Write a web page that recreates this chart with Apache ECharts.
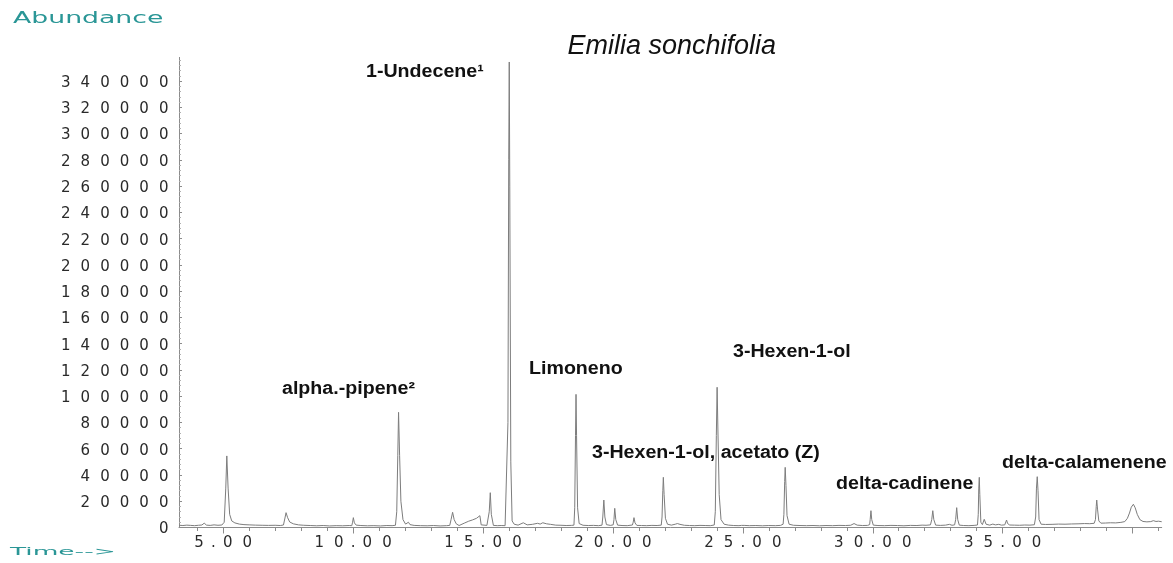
<!DOCTYPE html>
<html>
<head>
<meta charset="utf-8">
<script src="https://cdn.jsdelivr.net/npm/echarts@6/dist/echarts.min.js"></script>
<style>
html,body{margin:0;padding:0;background:#fff;}
#chart{width:1173px;height:563px;}
</style>
</head>
<body>
<div id="chart"></div>
<script>
// Retention time (min) and abundance
const timeMin = [
  3.30, 3.45, 3.60, 3.75, 3.90, 4.05, 4.18, 4.27, 4.36, 4.50, 4.65, 4.80, 4.95,
  5.04, 5.10, 5.14, 5.19, 5.25, 5.33, 5.45, 5.62, 5.80,
  6.00, 6.25, 6.50, 6.75, 7.00, 7.20, 7.32,
  7.37, 7.42, 7.48, 7.56, 7.70, 7.90,
  8.10, 8.35, 8.60, 8.85, 9.10, 9.35, 9.60, 9.85, 9.95,
  9.98, 10.01, 10.05, 10.12,
  10.30, 10.55, 10.80, 11.05, 11.30, 11.50, 11.63,
  11.68, 11.72, 11.75, 11.79, 11.84, 11.92, 12.02,
  12.08, 12.13, 12.19, 12.35,
  12.60, 12.85, 13.10, 13.35, 13.60, 13.72,
  13.77, 13.83, 13.89, 13.97, 14.08,
  14.15, 14.30, 14.45, 14.60, 14.75, 14.88, 14.93, 14.98,
  15.15, 15.24, 15.28, 15.32, 15.40,
  15.55, 15.70, 15.85, 15.92,
  15.96, 15.99, 16.01, 16.03, 16.07, 16.12,
  16.20, 16.35, 16.55, 16.70, 16.90, 17.10, 17.20, 17.30, 17.45, 17.60, 17.80, 18.00, 18.20, 18.40, 18.50,
  18.53, 18.56, 18.58, 18.60, 18.64, 18.70,
  18.85, 19.05, 19.25, 19.45, 19.58,
  19.61, 19.65, 19.69, 19.75, 19.90, 20.01,
  20.04, 20.07, 20.11, 20.18, 20.35, 20.55, 20.75,
  20.78, 20.81, 20.85, 20.92,
  21.10, 21.30, 21.50, 21.70, 21.86,
  21.89, 21.92, 21.94, 21.97, 22.02, 22.10,
  22.25, 22.40, 22.48, 22.58, 22.75, 22.95, 23.15, 23.35, 23.55, 23.75, 23.90,
  23.94, 23.98, 24.01, 24.04, 24.09, 24.16, 24.28,
  24.45, 24.65, 24.85, 24.95, 25.00, 25.05, 25.25, 25.50, 25.75, 26.00, 26.25, 26.45, 26.55,
  26.58, 26.61, 26.63, 26.66, 26.70, 26.78,
  26.95, 27.20, 27.45, 27.70, 27.95, 28.20, 28.45, 28.70, 28.95, 29.15, 29.28, 29.40, 29.60, 29.80, 29.88,
  29.90, 29.93, 29.96, 30.02,
  30.20, 30.45, 30.70, 30.95, 31.20, 31.45, 31.70, 31.90, 31.97, 32.05, 32.22,
  32.27, 32.31, 32.35, 32.42,
  32.60, 32.80, 32.95, 33.05, 33.15,
  33.19, 33.23, 33.27, 33.33,
  33.50, 33.70, 33.90, 34.03,
  34.06, 34.08, 34.10, 34.12, 34.16,
  34.22, 34.29, 34.36, 34.50, 34.62, 34.72, 34.85, 34.95, 35.08,
  35.12, 35.15, 35.19, 35.27,
  35.45, 35.65, 35.85, 36.05, 36.22,
  36.27, 36.30, 36.33, 36.36, 36.40, 36.48,
  36.65, 36.90, 37.15, 37.40, 37.65, 37.90, 38.15, 38.35, 38.52,
  38.57, 38.60, 38.62, 38.65, 38.70, 38.78,
  38.95, 39.15, 39.35, 39.55, 39.70,
  39.80, 39.88, 39.95, 40.03, 40.10, 40.18, 40.28, 40.40,
  40.55, 40.70, 40.80, 40.90, 41.00, 41.12
];
const abundance = [
  1700, 1500, 1800, 1600, 1400, 1700, 1900, 3300, 1800, 1600, 2000, 1700, 1900,
  4000, 30000, 54500, 30000, 10000, 5000, 3500, 2600, 2200,
  2000, 1800, 1700, 1600, 1700, 1500, 1900,
  6500, 11300, 7500, 4200, 2800, 2000,
  1700, 1500, 1300, 1500, 1200, 1400, 1300, 1500, 1400,
  4000, 7500, 3500, 1800,
  1500, 1300, 1400, 1200, 1500, 1400, 1700,
  12000, 55000, 87700, 55000, 20000, 6000, 2600,
  2500, 4000, 2200, 1600,
  1400, 1300, 1500, 1200, 1400, 1600,
  6000, 11600, 6000, 2800, 1500,
  1800, 3500, 4800, 5800, 7000, 9000, 2000, 1500,
  1600, 12000, 26500, 10000, 1600,
  1400, 1500, 1400, 2000,
  80000, 280000, 354500, 260000, 50000, 5000,
  2500, 1800, 3600, 2000, 2400, 3200, 2600, 3600, 2800, 2400, 1800, 1700, 1500, 1600, 1800,
  15000, 70000, 101400, 70000, 15000, 3000,
  1700, 1500, 1600, 1400, 1800,
  8000, 20900, 8000, 2200, 1600, 2000,
  6000, 14600, 6000, 1800, 1500, 1400, 1900,
  4000, 7500, 3500, 1600,
  1500, 1400, 1600, 1500, 1800,
  8000, 28000, 38200, 25000, 7000, 2500,
  1800, 2500, 3000, 2400, 1700, 1500, 1400, 1600, 1500, 1400, 1900,
  12000, 70000, 106800, 75000, 25000, 6000, 2500,
  1800, 1500, 1400, 1600, 2800, 1600, 1400, 1500, 1300, 1500, 1400, 1600, 2500,
  10000, 35000, 45800, 32000, 9000, 2500,
  1700, 1500, 1400, 1500, 1300, 1500, 1400, 1600, 1500, 1700, 3000, 1800, 1500, 1600, 2200,
  6000, 12800, 6000, 1800,
  1500, 1400, 1600, 1500, 1300, 1600, 1500, 1800, 3200, 1700, 2000,
  6000, 12800, 6000, 1800,
  1600, 1800, 2400, 1700, 2000,
  6000, 15100, 6000, 1800,
  1500, 1400, 1600, 1900,
  10000, 30000, 38200, 25000, 4000,
  2200, 6240, 2500, 1800, 2600, 2000, 2400, 1800, 2000,
  3500, 5700, 3000, 1900,
  1800, 1700, 1900, 1800, 2100,
  8000, 30000, 38700, 28000, 6000, 2500,
  2300, 2400, 2600, 2500, 2700, 2800, 3000, 2900, 3200,
  6000, 16000, 20900, 14000, 5000, 3300,
  3400, 3600, 3500, 3900, 4500,
  7000, 11000, 15500, 17700, 15000, 10000, 6000, 4600,
  4300, 4500, 5200, 4600, 4800, 4400
];

// Axis ticks
const abundanceTicks = [0, 20000, 40000, 60000, 80000, 100000, 120000, 140000, 160000,
  180000, 200000, 220000, 240000, 260000, 280000, 300000, 320000, 340000];
const timeLabelTicks = [5, 10, 15, 20, 25, 30, 35];
const timeMajorTicks = [5, 10, 15, 20, 25, 30, 35, 40];
const timeMinorTicks = [4, 5, 6, 7, 8, 9, 10, 11, 12, 13, 14, 15, 16, 17, 18, 19, 20, 21, 22,
  23, 24, 25, 26, 27, 28, 29, 30, 31, 32, 33, 34, 35, 36, 37, 38, 39, 40, 41];

// Texts
const chartTitle = 'Emilia sonchifolia';
const yAxisName = 'Abundance';
const xAxisName = 'Time-->';
const peakNames = ['1-Undecene\u00B9', 'alpha.-pipene\u00B2', 'Limoneno',
  '3-Hexen-1-ol, acetato (Z)', '3-Hexen-1-ol', 'delta-cadinene', 'delta-calamenene'];

const series = timeMin.map((t, i) => [t, abundance[i]]);

function spaced(str) {
  return str.split('').map(c => c === '.' ? '{p|.}' : '{d|' + c + '}').join('');
}
const digitStyle = { align: 'center', fontSize: 15, fontFamily: 'DejaVu Sans', color: '#2a2a2a' };
const richY = {
  d: Object.assign({ width: 19.6, padding: [4, 0, 0, 0] }, digitStyle),
  p: Object.assign({ width: 9, padding: [4, 0, 0, 0] }, digitStyle)
};
const richX = {
  d: Object.assign({ width: 19.6 }, digitStyle),
  p: Object.assign({ width: 9 }, digitStyle)
};

const axisGray = '#8c8c8c';
const XMIN = 3.3, XMAX = 41.12;

const labelPos = [
  [366, 72.5], [282, 389], [529, 369], [592, 453], [733, 352], [836, 484], [1002, 463]
];

const graphics = [
  { type: 'text', x: 671.7, y: 46.5,
    style: { text: chartTitle, font: 'italic 27px "Liberation Sans"', fill: '#111',
      textAlign: 'center', align: 'center', textVerticalAlign: 'middle', verticalAlign: 'middle' } },
  { type: 'text', x: 13, y: 19, scaleX: 1.78,
    style: { text: yAxisName, font: '15px "DejaVu Sans"', fill: '#2a9696',
      textAlign: 'left', align: 'left', textVerticalAlign: 'middle', verticalAlign: 'middle' } },
  { type: 'text', x: 10, y: 552, scaleX: 2.4,
    style: { text: xAxisName, font: '11px "DejaVu Sans"', fill: '#2a9696',
      textAlign: 'left', align: 'left', textVerticalAlign: 'middle', verticalAlign: 'middle' } }
];
peakNames.forEach((name, i) => {
  graphics.push({
    type: 'text', x: labelPos[i][0], y: labelPos[i][1], scaleX: 1.09,
    style: { text: name, font: 'bold 18px "Liberation Sans"', fill: '#111',
      textAlign: 'left', align: 'left', textVerticalAlign: 'middle', verticalAlign: 'middle' }
  });
});

const chart = echarts.init(document.getElementById('chart'), null, { renderer: 'canvas' });
chart.setOption({
  animation: false,
  backgroundColor: '#fff',
  grid: { left: 179, right: 11.3, top: 57.4, bottom: 35.5, containLabel: false },
  xAxis: [
    {
      type: 'value', min: XMIN, max: XMAX, position: 'bottom',
      axisLine: { show: true, onZero: false, lineStyle: { color: axisGray, width: 1 } },
      axisTick: { show: true, length: 6, customValues: timeMajorTicks, lineStyle: { color: axisGray } },
      axisLabel: {
        show: true, customValues: timeLabelTicks, margin: 8,
        formatter: v => spaced(Number(v).toFixed(2)), rich: richX
      },
      splitLine: { show: false }
    },
    {
      type: 'value', min: XMIN, max: XMAX, position: 'bottom', offset: 0,
      axisLine: { show: false, onZero: false },
      axisTick: { show: true, length: 3.5, customValues: timeMinorTicks, lineStyle: { color: axisGray } },
      axisLabel: { show: false },
      splitLine: { show: false }
    }
  ],
  yAxis: {
    type: 'value', min: 0, max: 358000, interval: 20000,
    axisLine: { show: true, lineStyle: { color: axisGray, width: 1 } },
    axisTick: { show: true, inside: true, length: 3, customValues: abundanceTicks, lineStyle: { color: axisGray } },
    minorTick: { show: true, splitNumber: 5, length: 2, lineStyle: { color: '#b0b0b0' } },
    axisLabel: {
      show: true, customValues: abundanceTicks, margin: 5.5,
      formatter: v => spaced(String(v)), rich: richY
    },
    splitLine: { show: false }
  },
  graphic: graphics,
  series: [{
    type: 'line',
    xAxisIndex: 0, yAxisIndex: 0,
    data: series,
    showSymbol: false,
    symbol: 'none',
    sampling: null,
    lineStyle: { color: '#7d7d7d', width: 1 },
    silent: true
  }]
});
</script>
</body>
</html>
